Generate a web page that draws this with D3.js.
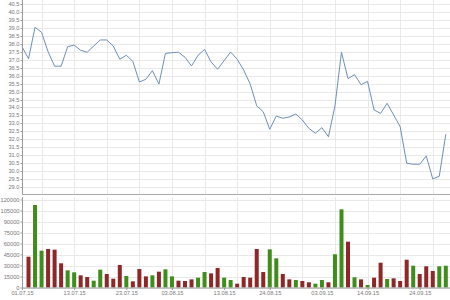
<!DOCTYPE html>
<html><head><meta charset="utf-8">
<script src="https://cdn.jsdelivr.net/npm/d3@7"></script>
<style>html,body{margin:0;padding:0;background:#fff;}svg{display:block;}</style>
</head><body>
<svg id="c" width="450" height="300"></svg>
<script>
const dates = ["01.07.15","02.07.15","03.07.15","06.07.15","07.07.15","08.07.15","09.07.15","10.07.15","13.07.15","14.07.15","15.07.15","16.07.15","17.07.15","20.07.15","21.07.15","22.07.15","23.07.15","24.07.15","27.07.15","28.07.15","29.07.15","30.07.15","31.07.15",
"03.08.15","04.08.15","05.08.15","06.08.15","07.08.15","10.08.15","11.08.15","12.08.15","13.08.15","14.08.15","17.08.15","18.08.15","19.08.15","20.08.15","21.08.15","24.08.15","25.08.15","26.08.15","27.08.15","28.08.15","31.08.15",
"01.09.15","02.09.15","03.09.15","04.09.15","07.09.15","08.09.15","09.09.15","10.09.15","11.09.15","14.09.15","15.09.15","16.09.15","17.09.15","18.09.15","21.09.15","22.09.15","23.09.15","24.09.15","25.09.15","28.09.15","29.09.15","30.09.15"];
const prices = [37.82,37.06,39.04,38.72,37.5,36.59,36.59,37.82,37.92,37.59,37.47,37.86,38.24,38.24,37.86,37.03,37.28,36.9,35.6,35.77,36.31,35.47,37.4,37.44,37.47,37.15,36.61,37.28,37.65,36.86,36.4,36.94,37.48,37.03,36.35,35.47,34.1,33.73,32.63,33.46,33.32,33.4,33.59,33.21,32.69,32.38,32.73,32.16,34.1,37.47,35.81,36.06,35.43,35.64,33.84,33.63,34.26,33.53,32.79,30.5,30.43,30.43,30.95,29.51,29.68,32.32];
const volumes = [null,42000,112500,50200,52500,51600,33000,23400,20700,16600,14300,9300,24300,18400,12000,30700,15700,8400,25200,15200,16600,21600,24800,15200,9300,8900,11100,13400,21100,19300,26600,13400,10200,5200,14300,13400,52500,21100,52000,39800,18400,11100,10200,8900,7100,5200,10200,7100,45300,106600,62500,13900,11100,3400,13400,33800,11600,12500,8900,37900,29700,18400,28900,22500,28900,29700];
const upDays = [null,0,1,1,0,0,0,1,1,0,0,1,1,0,0,0,1,0,0,0,1,0,1,1,0,0,0,1,1,0,0,1,1,0,0,0,0,0,1,1,0,0,1,0,0,1,1,0,1,1,0,1,0,1,0,0,1,0,0,0,1,0,0,0,1,1];
const xTickLabels = ["01.07.15","13.07.15","23.07.15","03.08.15","13.08.15","24.08.15","03.09.15","14.09.15","24.09.15"];
const priceTicks = [29.0,29.5,30.0,30.5,31.0,31.5,32.0,32.5,33.0,33.5,34.0,34.5,35.0,35.5,36.0,36.5,37.0,37.5,38.0,38.5,39.0,39.5,40.0,40.5];
const volumeTicks = [0,15000,30000,45000,60000,75000,90000,105000,120000];

const svg = d3.select("#c");
const L = 22, R = 450;
const x = d3.scalePoint().domain(dates).range([22, 445.8]);
const yP = d3.scaleLinear().domain([28.5, 40.5]).range([195, 4]);
const yV = d3.scaleLinear().domain([0, 120000]).range([287.5, 199.5]);
const font = "'Liberation Sans', Arial, sans-serif";
const gridC = "#e9e9e9", axisC = "#9a9a9a", textC = "#7a7a7a";

// Monday gridlines
const mondays = dates.filter(d => { const [dd,mm,yy] = d.split("."); return new Date(2000+ +yy, +mm-1, +dd).getDay() === 1; });

function grid(y0, y1, ticks, ys) {
  const g = svg.append("g");
  g.selectAll("line.h").data(ticks).join("line")
    .attr("x1", L).attr("x2", R).attr("y1", d => Math.round(ys(d))+0.5).attr("y2", d => Math.round(ys(d))+0.5)
    .attr("stroke", gridC).attr("stroke-width", 1);
  g.selectAll("line.v").data(mondays).join("line")
    .attr("x1", d => Math.round(x(d))+0.5).attr("x2", d => Math.round(x(d))+0.5).attr("y1", y0).attr("y2", y1)
    .attr("stroke", gridC).attr("stroke-width", 1);
}
grid(0, 194, priceTicks, yP);
grid(197, 287.5, volumeTicks, yV);

// separator line
svg.append("line").attr("x1", L).attr("x2", R).attr("y1", 194.5).attr("y2", 194.5).attr("stroke", "#aaaaaa");

// price line
svg.append("path").datum(prices)
  .attr("fill", "none").attr("stroke", "#6f8fb5").attr("stroke-width", 1)
  .attr("d", d3.line().x((d,i) => x(dates[i])).y(d => yP(d)));

// volume bars
svg.append("g").selectAll("rect").data(volumes.map((v,i) => ({v, i})).filter(d => d.v != null)).join("rect")
  .attr("x", d => x(dates[d.i]) - 2).attr("width", 4)
  .attr("y", d => yV(d.v)).attr("height", d => yV(0) - yV(d.v))
  .attr("fill", d => upDays[d.i] ? "#3f8e1c" : "#8e2828");

// axes
function styleAxis(g) {
  g.selectAll("path.domain").attr("stroke", axisC);
  g.selectAll(".tick line").attr("stroke", axisC);
  g.selectAll("text").attr("fill", textC).style("font-family", font).style("font-size", "5.7px");
}
const ayP = svg.append("g").attr("transform", `translate(${L+0.5},0)`)
  .call(d3.axisLeft(yP).tickValues(priceTicks).tickFormat(d3.format(".1f")).tickSize(2).tickPadding(1).tickSizeOuter(0));
ayP.select("path.domain").attr("d", "M0,0V194");
styleAxis(ayP);
ayP.selectAll(".tick").attr("transform", d => `translate(0,${Math.round(yP(d))+0.5})`);

const ayV = svg.append("g").attr("transform", `translate(${L+0.5},0)`)
  .call(d3.axisLeft(yV).tickValues(volumeTicks).tickFormat(d3.format("d")).tickSize(2).tickPadding(1).tickSizeOuter(0));
ayV.select("path.domain").attr("d", "M0,197V288");
styleAxis(ayV);

const ax = svg.append("g").attr("transform", "translate(0,288)")
  .call(d3.axisBottom(x).tickValues(xTickLabels).tickSize(2).tickPadding(1).tickSizeOuter(0));
ax.select("path.domain").attr("d", `M${L},0H${R}`);
styleAxis(ax);
</script>
</body></html>
